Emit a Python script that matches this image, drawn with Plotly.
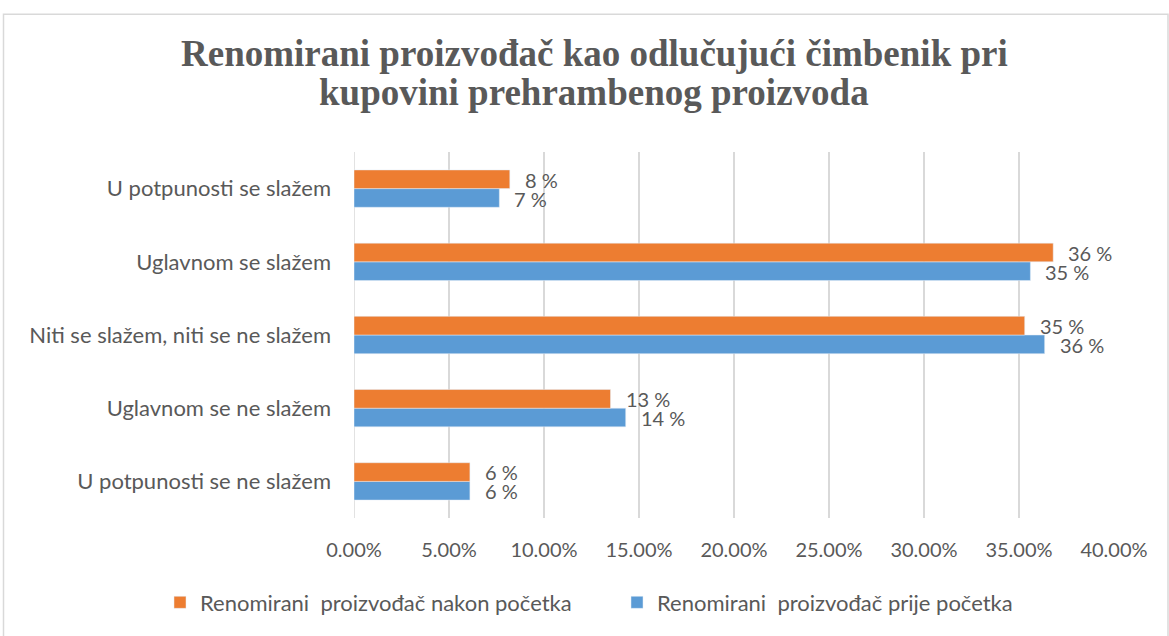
import plotly.graph_objects as go

categories = ["U potpunosti se ne slažem", "Uglavnom se ne slažem",
              "Niti se slažem, niti se ne slažem", "Uglavnom se slažem",
              "U potpunosti se slažem"]
nakon = [6.1, 13.5, 35.3, 36.8, 8.2]
prije = [6.1, 14.3, 36.35, 35.6, 7.65]
nakon_labels = ["6 %", "13 %", "35 %", "36 %", "8 %"]
prije_labels = ["6 %", "14 %", "36 %", "35 %", "7 %"]
tick_vals = [0, 5, 10, 15, 20, 25, 30, 35, 40]
tick_text = ["0.00%", "5.00%", "10.00%", "15.00%", "20.00%", "25.00%", "30.00%", "35.00%", "40.00%"]
title_lines = ["Renomirani proizvođač kao odlučujući čimbenik pri",
               "kupovini prehrambenog proizvoda"]

ORANGE = "#ED7D31"
BLUE = "#5B9BD5"
GREY = "#595959"
FONT = "Lato"

fig = go.Figure()
fig.add_trace(go.Bar(y=categories, x=prije, orientation="h", name="Renomirani  proizvođač prije početka",
                     marker=dict(color=BLUE), legendrank=2,
                     text=prije_labels, textposition="none"))
fig.add_trace(go.Bar(y=categories, x=nakon, orientation="h", name="Renomirani  proizvođač nakon početka",
                     marker=dict(color=ORANGE), legendrank=1,
                     text=nakon_labels, textposition="none"))

L, R, T, B = 354, 55, 152, 116
W, H = 1169, 636
pw = W - L - R
ph = H - T - B


def px_x(p):
    return (p - L) / pw


def px_y(p):
    return (H - B - p) / ph


annotations = []
for i, c in enumerate(categories):
    annotations.append(dict(x=nakon[i], y=c, xref="x", yref="y", text=nakon_labels[i],
                            xanchor="left", yanchor="middle", showarrow=False,
                            xshift=13, yshift=9, font=dict(family=FONT, size=20, color=GREY)))
    annotations.append(dict(x=prije[i], y=c, xref="x", yref="y", text=prije_labels[i],
                            xanchor="left", yanchor="middle", showarrow=False,
                            xshift=13, yshift=-10, font=dict(family=FONT, size=20, color=GREY)))
for line, yc in zip(title_lines, [53, 92]):
    annotations.append(dict(x=px_x(594), y=px_y(yc), xref="paper", yref="paper", text=line,
                            xanchor="center", yanchor="middle", showarrow=False,
                            font=dict(family="Liberation Serif", size=37, color=GREY, weight="bold")))

fig.update_layout(
    width=W, height=H,
    margin=dict(l=L, r=R, t=T, b=B),
    plot_bgcolor="white", paper_bgcolor="white",
    barmode="group", bargap=0.49, bargroupgap=0,
    xaxis=dict(range=[0, 40], tickvals=tick_vals, ticktext=tick_text, showgrid=True,
               gridcolor="#d9d9d9", gridwidth=1.5, zeroline=False, showline=False,
               tickfont=dict(family=FONT, size=20, color=GREY), ticks="", ticklabelstandoff=18),
    yaxis=dict(categoryorder="array", categoryarray=categories, showgrid=False,
               tickfont=dict(family=FONT, size=22, color=GREY), ticks="", ticklabelstandoff=22,
               showline=False, zeroline=False),
    legend=dict(orientation="h", x=px_x(160), xanchor="left",
                y=px_y(605), yanchor="middle",
                font=dict(family=FONT, size=22, color=GREY), entrywidth=412),
    annotations=annotations,
    shapes=[dict(type="rect", xref="paper", yref="paper",
                 x0=px_x(3.5), x1=px_x(1168), y0=px_y(640), y1=px_y(13.5),
                 line=dict(color="#d9d9d9", width=1.5), fillcolor="rgba(0,0,0,0)", layer="below"),
            dict(type="line", xref="x", yref="paper", x0=0, x1=0, y0=0, y1=1,
                 line=dict(color="#d9d9d9", width=1.5), layer="below")],
    showlegend=True,
)

fig.write_html("out.html", config={"displayModeBar": False},
               post_script="document.body.style.margin='0';")
